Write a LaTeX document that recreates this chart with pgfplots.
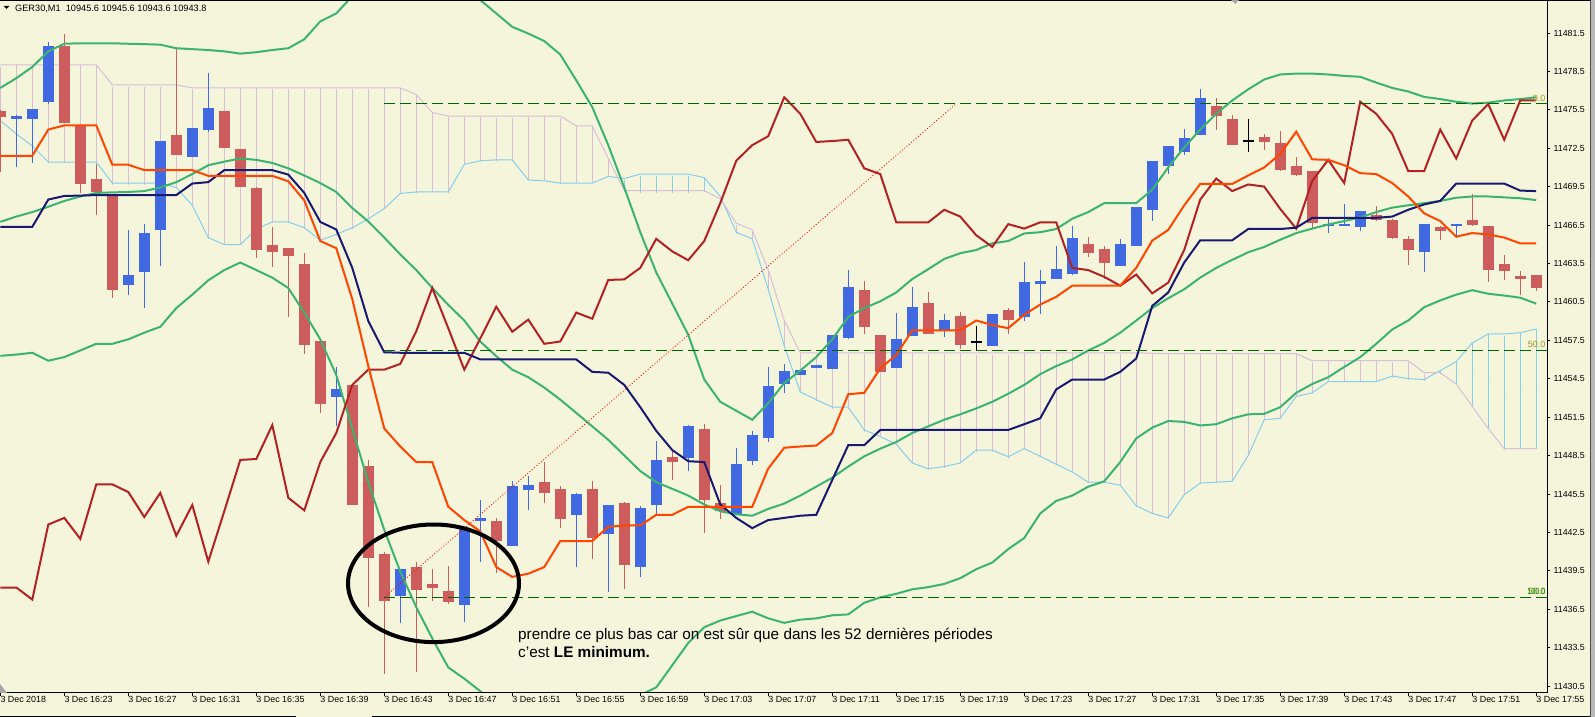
\documentclass[border=0pt]{standalone}
\usepackage{fontspec}
\setmainfont{Liberation Sans}
\usepackage{pgfplots}
\usepackage{pgfplotstable}
\pgfplotsset{compat=1.18}
\definecolor{bg}{HTML}{F5F5DC}
\definecolor{bullc}{HTML}{4169E1}
\definecolor{bearc}{HTML}{CD5C5C}
\definecolor{tenkan}{HTML}{FF4500}
\definecolor{kijun}{HTML}{191970}
\definecolor{chikou}{HTML}{B22222}
\definecolor{spanA}{HTML}{87CEEB}
\definecolor{spanB}{HTML}{D8BFD8}
\definecolor{boll}{HTML}{3CB371}
\definecolor{fibc}{HTML}{006400}
\definecolor{fiblab}{HTML}{9A9A1A}

\pgfplotstableread{
i O H L C
1 11474.93 11475.17 11471.12 11475.17
2 11474.93 11475.69 11471.47 11475.69
3 11476.15 11480.96 11476.15 11480.54
8 11461.92 11466.21 11461.15 11462.68
9 11462.93 11466.66 11460.10 11465.96
10 11466.14 11473.11 11463.42 11473.11
12 11471.93 11474.19 11471.93 11474.19
13 11473.95 11478.52 11473.95 11475.69
21 11453.09 11455.50 11450.90 11453.72
25 11437.64 11439.73 11435.62 11439.73
29 11436.94 11442.94 11435.62 11442.94
30 11443.43 11445.03 11440.15 11443.71
32 11441.55 11446.53 11441.55 11446.26
33 11445.91 11447.06 11444.41 11446.26
36 11443.99 11445.66 11439.87 11445.66
38 11442.42 11444.69 11437.96 11444.69
40 11439.87 11444.69 11439.10 11444.44
41 11444.69 11449.74 11444.06 11448.17
43 11448.45 11450.96 11447.41 11450.96
46 11444.06 11449.22 11444.06 11448.00
47 11448.10 11450.55 11447.90 11450.20
48 11449.92 11455.50 11449.64 11454.03
49 11454.17 11455.67 11453.41 11455.15
50 11454.87 11455.22 11454.87 11455.22
51 11455.43 11455.67 11455.43 11455.67
52 11455.43 11458.01 11455.43 11458.01
53 11457.66 11463.00 11457.66 11461.67
56 11455.43 11459.75 11455.43 11457.70
57 11457.94 11461.67 11457.94 11460.21
59 11458.39 11459.75 11457.94 11459.16
62 11457.17 11459.68 11457.17 11459.68
64 11459.44 11463.70 11459.09 11462.20
65 11461.95 11463.17 11459.68 11462.20
66 11462.41 11464.99 11462.41 11463.17
67 11462.65 11466.49 11462.65 11465.51
70 11463.42 11465.44 11463.42 11465.16
71 11464.92 11468.02 11464.92 11468.02
72 11467.64 11471.51 11466.94 11471.51
73 11471.12 11472.69 11470.57 11472.69
74 11472.35 11473.98 11471.89 11473.46
75 11473.64 11477.19 11473.64 11476.53
83 11466.49 11467.18 11465.96 11466.66
84 11466.49 11468.16 11466.49 11466.66
85 11466.49 11467.71 11466.14 11467.71
89 11464.46 11466.66 11463.00 11466.66
91 11466.49 11466.66 11465.61 11466.66
}\bull

\pgfplotstableread{
i O H L C
0 11475.55 11475.55 11470.67 11475.10
4 11480.68 11481.55 11474.61 11474.61
5 11474.40 11474.40 11469.10 11469.87
6 11470.15 11471.40 11467.43 11469.10
7 11468.93 11468.93 11460.90 11461.60
11 11473.71 11480.44 11472.14 11472.14
14 11475.52 11475.52 11472.62 11472.62
15 11472.45 11472.45 11469.49 11469.49
16 11469.49 11469.49 11463.94 11464.64
17 11464.95 11466.56 11463.42 11464.43
18 11464.71 11464.71 11459.41 11464.11
19 11463.49 11464.46 11456.61 11457.14
20 11457.45 11457.45 11451.91 11452.60
22 11454.03 11454.03 11444.65 11444.65
23 11447.69 11448.17 11436.66 11440.57
24 11440.99 11440.99 11431.43 11437.36
26 11439.94 11440.22 11431.68 11438.13
27 11438.48 11439.73 11437.19 11438.13
28 11437.99 11439.98 11436.94 11437.19
31 11443.47 11443.71 11439.45 11441.90
34 11446.53 11448.00 11444.86 11445.63
35 11445.98 11446.26 11442.94 11443.64
37 11445.98 11446.67 11440.57 11442.14
39 11444.97 11444.97 11438.13 11440.15
42 11448.52 11448.94 11446.60 11448.10
44 11450.62 11450.96 11442.42 11445.10
45 11444.97 11446.26 11443.64 11444.34
54 11461.50 11462.23 11458.11 11458.64
55 11458.01 11458.01 11455.15 11455.15
58 11460.52 11461.22 11458.11 11458.11
60 11459.47 11459.75 11456.89 11457.17
63 11459.96 11460.14 11458.11 11459.13
68 11465.16 11465.61 11464.11 11464.46
69 11464.71 11464.99 11462.47 11463.66
76 11475.90 11476.53 11473.98 11475.10
77 11474.96 11475.21 11472.94 11472.94
79 11473.46 11473.71 11472.42 11473.11
80 11473.01 11473.98 11470.92 11470.92
81 11471.19 11471.99 11470.50 11470.50
82 11470.67 11470.67 11466.24 11466.66
86 11467.43 11468.16 11467.01 11467.01
87 11467.01 11467.01 11465.44 11465.61
88 11465.51 11465.68 11463.42 11464.67
90 11466.49 11466.49 11465.44 11466.14
92 11466.94 11469.03 11466.59 11466.59
93 11466.49 11466.49 11462.20 11463.07
94 11463.45 11464.15 11462.20 11462.93
95 11462.65 11463.00 11461.15 11462.41
96 11462.65 11462.65 11461.43 11461.60
}\bear

\pgfplotstableread{
i O H L C
61 11457.42 11458.71 11456.89 11457.42
78 11473.11 11474.96 11472.42 11473.11
}\doji

\pgfplotstableread{
i T K A B S U M Lo
0 11471.93 11466.38 11474.68 11479.04 11438.20 11477.23 11466.77 11456.30
1 11471.93 11466.38 11473.64 11479.04 11438.20 11477.99 11467.18 11456.40
2 11471.93 11466.38 11472.69 11479.04 11437.26 11478.87 11467.53 11456.54
3 11473.98 11468.51 11471.44 11479.04 11443.12 11480.09 11467.95 11455.92
4 11474.30 11468.79 11471.44 11479.04 11443.64 11480.68 11468.40 11456.20
5 11474.30 11468.82 11471.44 11479.04 11442.00 11480.72 11468.75 11456.72
6 11474.30 11468.86 11471.44 11479.04 11446.26 11480.72 11469.03 11457.24
7 11471.23 11468.86 11469.80 11477.47 11446.26 11480.72 11469.07 11457.24
8 11471.23 11468.86 11469.80 11477.47 11445.66 11480.68 11469.10 11457.59
9 11470.81 11468.86 11469.80 11477.47 11443.71 11480.65 11469.17 11458.11
10 11470.81 11468.86 11469.80 11477.47 11445.59 11480.61 11469.45 11458.57
11 11470.81 11468.86 11469.45 11477.47 11442.24 11480.33 11469.87 11460.03
12 11470.81 11469.76 11468.06 11477.23 11444.65 11480.26 11470.50 11461.08
13 11470.36 11469.87 11465.54 11477.23 11440.22 11480.19 11471.19 11462.20
14 11470.36 11470.81 11464.99 11477.23 11444.16 11480.09 11471.47 11463.00
15 11470.36 11470.81 11464.99 11477.23 11448.17 11479.91 11471.72 11463.59
16 11470.36 11470.81 11466.21 11477.23 11448.24 11480.02 11471.61 11463.00
17 11470.36 11470.81 11466.76 11477.23 11450.89 11480.19 11471.37 11462.41
18 11469.94 11470.46 11466.76 11477.23 11445.21 11480.33 11470.95 11461.60
19 11468.44 11469.03 11466.31 11477.23 11444.23 11481.03 11470.39 11459.68
20 11465.27 11466.76 11465.33 11477.23 11448.00 11482.43 11469.80 11457.59
21 11464.71 11466.17 11465.79 11477.23 11450.27 11483.05 11469.10 11454.80
22 11460.73 11463.17 11466.31 11477.23 11454.03 11484.40 11467.85 11450.62
23 11455.50 11459.02 11467.00 11477.23 11455.22 11485.50 11466.80 11446.43
24 11450.62 11456.58 11467.81 11477.23 11455.22 11486.30 11465.54 11442.70
25 11449.22 11456.54 11468.99 11477.23 11455.67 11486.80 11464.22 11439.45
26 11448.00 11456.54 11469.10 11476.71 11458.22 11487.00 11463.00 11436.66
27 11448.00 11456.54 11469.10 11475.31 11461.60 11486.80 11461.60 11434.22
28 11444.51 11456.54 11469.10 11475.03 11458.46 11486.20 11460.28 11431.96
29 11443.47 11456.54 11471.26 11475.03 11455.22 11485.20 11459.06 11431.08
30 11442.59 11456.02 11471.54 11475.03 11457.66 11484.10 11457.42 11430.10
31 11439.80 11456.02 11471.61 11475.03 11460.14 11483.05 11456.27 11429.00
32 11439.03 11456.02 11471.61 11475.03 11458.18 11482.00 11455.22 11428.00
33 11439.28 11456.02 11470.04 11475.03 11459.13 11481.48 11454.63 11427.30
34 11439.80 11456.02 11469.97 11475.03 11457.24 11480.89 11453.82 11426.80
35 11441.83 11456.02 11469.80 11475.03 11457.42 11479.84 11452.88 11426.60
36 11441.83 11456.02 11469.80 11474.26 11459.68 11477.82 11451.84 11426.80
37 11441.83 11455.05 11469.80 11474.26 11459.20 11475.73 11450.79 11427.40
38 11442.94 11454.98 11470.32 11471.72 11462.23 11472.76 11449.74 11428.20
39 11443.05 11454.03 11470.15 11469.21 11462.27 11469.45 11448.52 11429.00
40 11443.05 11452.29 11470.50 11469.21 11463.17 11465.96 11447.30 11429.80
41 11443.88 11450.44 11470.50 11469.21 11465.44 11462.82 11446.43 11430.40
42 11443.88 11448.94 11470.50 11469.21 11464.46 11460.38 11445.91 11432.13
43 11444.51 11448.07 11470.50 11469.21 11463.77 11457.94 11445.38 11433.87
44 11444.51 11448.00 11470.22 11469.21 11465.27 11454.45 11444.69 11435.10
45 11444.51 11444.69 11468.75 11468.58 11468.23 11452.71 11444.16 11435.62
46 11444.51 11443.64 11465.96 11466.66 11471.54 11452.01 11443.92 11435.97
47 11444.51 11442.84 11465.44 11466.14 11472.76 11451.31 11443.81 11436.31
48 11447.50 11443.47 11461.50 11463.00 11473.46 11452.60 11444.34 11435.79
49 11449.12 11443.64 11457.07 11459.06 11476.50 11454.17 11444.76 11435.44
50 11449.22 11443.81 11453.48 11456.54 11475.21 11455.15 11445.38 11435.69
51 11449.29 11443.88 11452.88 11456.54 11473.01 11456.20 11446.08 11435.79
52 11450.27 11446.60 11452.29 11456.54 11473.08 11457.59 11446.78 11436.03
53 11453.30 11449.32 11452.29 11456.54 11473.18 11459.34 11447.65 11436.10
54 11453.41 11449.32 11450.51 11456.54 11470.95 11460.03 11448.45 11437.01
55 11455.32 11450.51 11449.99 11456.54 11470.50 11460.56 11449.05 11437.43
56 11456.37 11450.51 11449.40 11456.54 11466.73 11461.25 11449.57 11437.71
57 11458.29 11450.51 11447.93 11456.54 11466.73 11462.30 11450.27 11438.06
58 11458.29 11450.51 11447.48 11456.54 11466.73 11463.07 11450.79 11438.23
59 11458.29 11450.51 11447.65 11456.54 11467.71 11463.87 11451.31 11438.48
60 11458.29 11450.51 11447.93 11456.54 11467.18 11464.32 11451.73 11438.93
61 11459.06 11450.51 11448.94 11456.54 11465.72 11464.57 11452.19 11439.63
62 11458.71 11450.51 11448.94 11456.54 11464.81 11465.09 11452.71 11440.15
63 11458.46 11450.51 11448.42 11456.54 11466.59 11465.27 11453.34 11441.20
64 11459.51 11450.96 11449.05 11456.54 11466.24 11465.86 11454.03 11442.07
65 11460.31 11451.42 11448.45 11456.54 11466.73 11465.96 11454.87 11443.99
66 11460.91 11453.68 11447.83 11456.54 11466.73 11466.21 11455.50 11444.97
67 11461.78 11454.45 11447.23 11456.54 11463.17 11467.01 11456.02 11445.38
68 11461.78 11454.45 11446.43 11456.54 11463.00 11467.53 11456.72 11446.08
69 11461.78 11454.45 11446.43 11456.54 11462.47 11468.23 11457.31 11446.50
70 11461.78 11455.05 11446.19 11456.54 11461.78 11468.23 11458.11 11448.00
71 11463.17 11456.09 11444.58 11456.54 11462.65 11468.23 11459.06 11449.85
72 11465.30 11460.20 11443.99 11456.50 11461.18 11469.28 11460.03 11450.69
73 11466.14 11461.25 11443.64 11456.47 11462.02 11471.02 11460.80 11451.21
74 11468.06 11463.59 11445.45 11456.47 11464.57 11472.59 11461.50 11451.14
75 11469.73 11465.33 11446.36 11456.47 11468.51 11473.98 11462.41 11450.86
76 11469.73 11465.33 11446.43 11456.47 11470.15 11475.21 11463.17 11450.96
77 11469.73 11465.33 11446.50 11456.47 11469.17 11476.25 11463.80 11451.42
78 11470.39 11466.21 11448.52 11456.47 11469.69 11477.12 11464.39 11451.73
79 11471.02 11466.21 11451.31 11456.47 11469.52 11477.89 11464.81 11451.77
80 11472.07 11466.21 11451.42 11456.47 11467.78 11478.28 11465.37 11452.29
81 11473.81 11466.31 11453.13 11456.47 11466.24 11478.35 11465.89 11453.41
82 11471.65 11467.08 11453.41 11455.92 11469.97 11478.35 11466.24 11454.10
83 11471.61 11467.08 11454.28 11455.92 11471.61 11478.28 11466.56 11454.63
84 11471.19 11467.08 11454.28 11455.92 11469.80 11478.17 11466.83 11455.43
85 11470.57 11467.08 11454.28 11455.92 11476.15 11478.10 11467.11 11456.20
86 11470.50 11467.08 11454.28 11455.92 11475.21 11477.65 11467.53 11457.24
87 11469.80 11467.18 11454.73 11455.92 11473.64 11477.23 11467.88 11458.36
88 11468.75 11467.71 11454.52 11455.92 11470.74 11476.95 11468.06 11459.06
89 11467.43 11468.13 11454.45 11454.98 11470.74 11476.53 11468.23 11460.10
90 11466.83 11468.40 11455.15 11454.98 11473.98 11476.36 11468.40 11460.63
91 11465.61 11469.76 11455.85 11454.10 11471.72 11476.15 11468.65 11461.08
92 11465.89 11469.76 11457.31 11452.36 11474.68 11476.01 11468.75 11461.43
93 11465.79 11469.76 11458.01 11450.62 11475.97 11476.08 11468.75 11461.15
94 11465.54 11469.76 11458.01 11449.05 11473.18 11476.25 11468.68 11461.01
95 11465.09 11469.21 11458.11 11449.05 11476.25 11476.36 11468.61 11460.84
96 11465.09 11469.17 11458.39 11449.05 11476.25 11476.50 11468.47 11460.38
}\ind

\pgfplotsset{
  vbar/.style 2 args={only marks, mark=none, mark size=0pt,
    mark options={draw=none, fill=none}, forget plot,
    error bars/y dir=both, error bars/y explicit, error bars/error mark=none,
    error bars/error bar style={draw=#1, line width=#2}},
}

\begin{document}
\begin{tikzpicture}[x=1pt,y=1pt]
\fill[bg] (0,-24) rectangle (1595,693);
\begin{axis}[
  at={(0,0)}, anchor=south west,
  width=1547pt, height=693pt, scale only axis,
  xmin=-0.019, xmax=96.669, ymin=11429.96, ymax=11484.1,
  axis line style={draw=none},
  xtick pos=lower, ytick pos=upper,
  xticklabel pos=lower, yticklabel pos=upper,
  tick align=outside, major tick length=3.5pt,
  tick style={black, line width=1pt},
  scaled y ticks=false,
  xtick={0,4,...,96},
  xticklabels={3 Dec 2018, 3 Dec 16:23, 3 Dec 16:27, 3 Dec 16:31, 3 Dec 16:35, 3 Dec 16:39, 3 Dec 16:43, 3 Dec 16:47, 3 Dec 16:51, 3 Dec 16:55, 3 Dec 16:59, 3 Dec 17:03, 3 Dec 17:07, 3 Dec 17:11, 3 Dec 17:15, 3 Dec 17:19, 3 Dec 17:23, 3 Dec 17:27, 3 Dec 17:31, 3 Dec 17:35, 3 Dec 17:39, 3 Dec 17:43, 3 Dec 17:47, 3 Dec 17:51, 3 Dec 17:55},
  ytick={11430.5,11433.5,...,11481.5},
  yticklabel style={anchor=west, inner sep=0pt, xshift=3pt, font=\fontsize{8.8}{10}\selectfont,
    /pgf/number format/.cd, fixed, fixed zerofill, precision=1, 1000 sep={}, assume math mode=true},
  xticklabel style={anchor=north west, inner sep=0pt, font=\fontsize{8.9}{10}\selectfont},
]
% cloud hatching
\addplot[vbar={spanB}{1pt}, restrict x to domain=0:38] table[x=i, y expr={(\thisrow{A}+\thisrow{B})/2}, y error expr={abs(\thisrow{A}-\thisrow{B})/2}] \ind;
\addplot[vbar={spanA}{1pt}, restrict x to domain=39:45] table[x=i, y expr={(\thisrow{A}+\thisrow{B})/2}, y error expr={abs(\thisrow{A}-\thisrow{B})/2}] \ind;
\addplot[vbar={spanB}{1pt}, restrict x to domain=46:89] table[x=i, y expr={(\thisrow{A}+\thisrow{B})/2}, y error expr={abs(\thisrow{A}-\thisrow{B})/2}] \ind;
\addplot[vbar={spanA}{1pt}, restrict x to domain=90:96] table[x=i, y expr={(\thisrow{A}+\thisrow{B})/2}, y error expr={abs(\thisrow{A}-\thisrow{B})/2}] \ind;
\addplot[no marks, spanA, line width=1pt] table[x=i, y=A] \ind;
\addplot[no marks, spanB, line width=1pt] table[x=i, y=B] \ind;
% candles
\addplot[vbar={bullc}{1pt}] table[x=i, y expr={(\thisrow{H}+\thisrow{L})/2}, y error expr={(\thisrow{H}-\thisrow{L})/2}] \bull;
\addplot[vbar={bullc}{11pt}] table[x=i, y expr={(\thisrow{O}+\thisrow{C})/2}, y error expr={max(abs(\thisrow{O}-\thisrow{C})/2,0.04)}] \bull;
\addplot[vbar={bearc}{1pt}] table[x=i, y expr={(\thisrow{H}+\thisrow{L})/2}, y error expr={(\thisrow{H}-\thisrow{L})/2}] \bear;
\addplot[vbar={bearc}{11pt}] table[x=i, y expr={(\thisrow{O}+\thisrow{C})/2}, y error expr={max(abs(\thisrow{O}-\thisrow{C})/2,0.04)}] \bear;
\addplot[vbar={black}{1pt}] table[x=i, y expr={(\thisrow{H}+\thisrow{L})/2}, y error expr={(\thisrow{H}-\thisrow{L})/2}] \doji;
\addplot[vbar={black}{11pt}] table[x=i, y expr={(\thisrow{O}+\thisrow{C})/2}, y error expr={max(abs(\thisrow{O}-\thisrow{C})/2,0.04)}] \doji;
% bollinger
\addplot[no marks, boll, line width=2pt] table[x=i, y=U] \ind;
\addplot[no marks, boll, line width=2pt] table[x=i, y=M] \ind;
\addplot[no marks, boll, line width=2pt] table[x=i, y=Lo] \ind;
% ichimoku lines
\addplot[no marks, chikou, line width=2pt] table[x=i, y=S] \ind;
\addplot[no marks, kijun, line width=2pt] table[x=i, y=K] \ind;
\addplot[no marks, tenkan, line width=2pt] table[x=i, y=T] \ind;
% fibonacci
\draw[fibc, line width=1pt, dash pattern=on 11pt off 5pt] (axis cs:24,11476.0) -- (axis cs:96.669,11476.0);
\draw[fibc, line width=1pt, dash pattern=on 11pt off 5pt] (axis cs:24,11456.72) -- (axis cs:96.669,11456.72);
\draw[fibc, line width=1pt, dash pattern=on 11pt off 5pt] (axis cs:24,11437.44) -- (axis cs:96.669,11437.44);
\draw[red, line width=0.8pt, dash pattern=on 1pt off 2pt] (axis cs:24,11437.44) -- (axis cs:59.75,11476.0);
\end{axis}
% frame
\draw[black, line width=1pt] (0,692.5) -- (1590,692.5);
\draw[black, line width=1pt] (1547,0) -- (1547,693);
\draw[black, line width=1pt] (0,0) -- (1547,0);
\fill[gray!55] (1589.5,-24) rectangle (1595,693);
\draw[black!70, line width=1pt] (1590,-24) -- (1590,693);
\draw[black, line width=1.2pt] (0,-23.4) -- (296,-23.4);
\draw[black, line width=1.2pt] (372,-23.4) -- (1590,-23.4);
\fill[gray!70] (0,0) -- (0,9) -- (7,0) -- cycle;
\fill[gray!70] (1231,693) -- (1235,689) -- (1239,693) -- cycle;
% title
\fill[black] (3.5,687) -- (9.5,687) -- (6.5,684) -- cycle;
\node[anchor=base west, inner sep=0pt, font=\fontsize{9.2}{11}\selectfont] at (15,681.5) {GER30,M1\ \ 10945.6 10945.6 10943.6 10943.8};
% fibo labels
\node[anchor=base east, inner sep=0pt, text=fiblab, font=\fontsize{9}{10}\selectfont] at (1545.5,591.3) {0.0};
\node[anchor=base east, inner sep=0pt, text=fiblab, font=\fontsize{9}{10}\selectfont] at (1545.5,345.7) {50.0};
\node[anchor=base east, inner sep=0pt, text=fiblab, font=\fontsize{9}{10}\selectfont] at (1545.5,98.7) {50.0};
\node[anchor=base east, inner sep=0pt, text=fibc!80!green, font=\fontsize{9}{10}\selectfont, xscale=0.8] at (1545.5,98.7) {100.0};
% annotation
\draw[black, line width=4pt] (433.5,109.7) ellipse [x radius=85.5, y radius=58.8];
\node[anchor=base west, inner sep=0pt, font=\fontsize{15.3}{18}\selectfont] at (518,53) {prendre ce plus bas car on est sûr que dans les 52 dernières périodes};
\node[anchor=base west, inner sep=0pt, font=\fontsize{15.3}{18}\selectfont] at (518,35) {c'est \textbf{LE minimum.}};
\pgfresetboundingbox
\useasboundingbox (0,-24) rectangle (1595,693);
\end{tikzpicture}
\end{document}
